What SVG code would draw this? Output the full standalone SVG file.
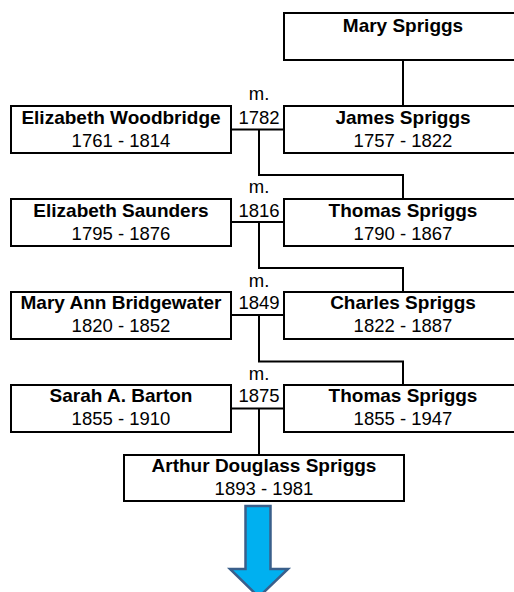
<svg xmlns="http://www.w3.org/2000/svg" width="514" height="592" viewBox="0 0 514 592">
<style>
.box{fill:#fff;stroke:#000;stroke-width:2}
.ln{fill:none;stroke:#000;stroke-width:2}
text{font-family:"Liberation Sans",Arial,sans-serif;font-size:18.5px;fill:#000;text-anchor:middle}
.nm{font-weight:bold;font-size:19px}
</style>
<rect width="514" height="592" fill="#fff"/>
<g id="connectors">
<path class="ln" d="M403 60V106"/>
<path class="ln" d="M231 129.5H284M259 129.5V175H403V199"/>
<path class="ln" d="M231 222H284M259 222V268H403V292"/>
<path class="ln" d="M231 315H284M259 315V361.5H403V385"/>
<path class="ln" d="M231 408.5H284M259 408.5V455"/>
</g>
<g id="mary-spriggs"><rect class="box" x="284" y="13" width="240" height="47"/><text class="nm" x="403" y="31.5">Mary Spriggs</text></g>
<g id="elizabeth-woodbridge"><rect class="box" x="11" y="106" width="220" height="47"/><text class="nm" x="121" y="124">Elizabeth Woodbridge</text><text x="121" y="147.3">1761 - 1814</text></g>
<g id="marriage-1782"><text x="259" y="100">m.</text><text x="259" y="124">1782</text></g>
<g id="james-spriggs"><rect class="box" x="284" y="106" width="240" height="47"/><text class="nm" x="403" y="124">James Spriggs</text><text x="403" y="147.3">1757 - 1822</text></g>
<g id="elizabeth-saunders"><rect class="box" x="11" y="199" width="220" height="47"/><text class="nm" x="121" y="216.7">Elizabeth Saunders</text><text x="121" y="240">1795 - 1876</text></g>
<g id="marriage-1816"><text x="259" y="193.3">m.</text><text x="259" y="216.7">1816</text></g>
<g id="thomas-spriggs-1790"><rect class="box" x="284" y="199" width="240" height="47"/><text class="nm" x="403" y="216.7">Thomas Spriggs</text><text x="403" y="240">1790 - 1867</text></g>
<g id="mary-ann-bridgewater"><rect class="box" x="11" y="292" width="220" height="47"/><text class="nm" x="121" y="309">Mary Ann Bridgewater</text><text x="121" y="332.3">1820 - 1852</text></g>
<g id="marriage-1849"><text x="259" y="286.7">m.</text><text x="259" y="309">1849</text></g>
<g id="charles-spriggs"><rect class="box" x="284" y="292" width="240" height="47"/><text class="nm" x="403" y="309">Charles Spriggs</text><text x="403" y="332.3">1822 - 1887</text></g>
<g id="sarah-barton"><rect class="box" x="11" y="385" width="220" height="47"/><text class="nm" x="121" y="401.7">Sarah A. Barton</text><text x="121" y="425">1855 - 1910</text></g>
<g id="marriage-1875"><text x="259" y="379.5">m.</text><text x="259" y="401.7">1875</text></g>
<g id="thomas-spriggs-1855"><rect class="box" x="284" y="385" width="240" height="47"/><text class="nm" x="403" y="401.7">Thomas Spriggs</text><text x="403" y="425">1855 - 1947</text></g>
<g id="arthur-douglass-spriggs"><rect class="box" x="124" y="455" width="280" height="46"/><text class="nm" x="264" y="471.7">Arthur Douglass Spriggs</text><text x="264" y="495">1893 - 1981</text></g>
<g id="arrow"><path d="M245.5 506H270.5V569H288L258.8 597L230 569H245.5Z" fill="#00B0F0" stroke="#3A5F8B" stroke-width="2.5" stroke-linejoin="miter"/></g>
</svg>
